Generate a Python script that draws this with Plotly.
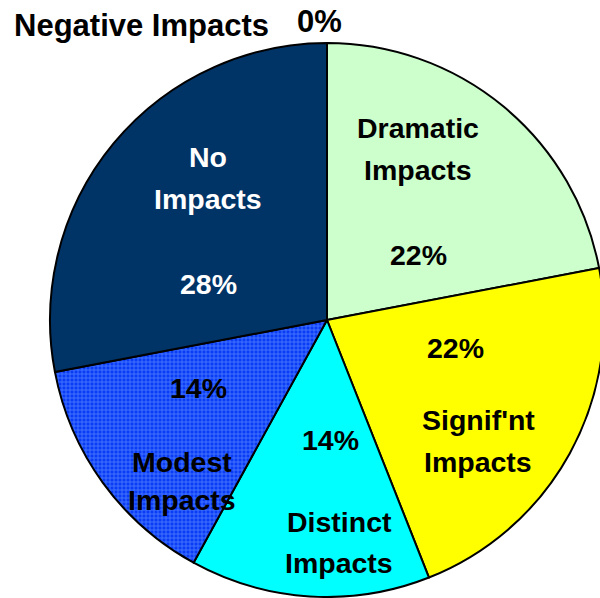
import plotly.graph_objects as go

# ---- data ----
categories = ["Dramatic Impacts", "Signif'nt Impacts", "Distinct Impacts",
              "Modest Impacts", "No Impacts", "Negative Impacts"]
values = [22, 22, 14, 14, 28, 0]
colors = ["#CCFFCC", "#FFFF00", "#00FFFF", "#0A3CF5", "#003366", "#FF0000"]
text_colors = ["black", "black", "black", "black", "white", "black"]

# ---- label placement (pixels; style, not data) ----
name_lines = {
    "Dramatic Impacts": (["Dramatic", "Impacts"], [(418, 128), (418, 170)]),
    "Signif'nt Impacts": (["Signif'nt", "Impacts"], [(478, 420), (478, 462)]),
    "Distinct Impacts": (["Distinct", "Impacts"], [(339, 522), (339, 563)]),
    "Modest Impacts": (["Modest", "Impacts"], [(182, 462), (182, 500)]),
    "No Impacts": (["No", "Impacts"], [(208, 157), (208, 199)]),
    "Negative Impacts": (["Negative Impacts"], [(141, 26)]),
}
pct_pos = {
    "Dramatic Impacts": (418, 255),
    "Signif'nt Impacts": (455, 348),
    "Distinct Impacts": (330, 440),
    "Modest Impacts": (198, 388),
    "No Impacts": (208, 284),
    "Negative Impacts": (319, 22),
}

W, H = 610, 598   # slightly wider than the window so the pie is clipped at right
FONT = "Liberation Sans, Arial, sans-serif"

marker_pattern = dict(
    shape=["", "", "", "+", "", ""],
    fgcolor="#4D7DFF",
    bgcolor=colors,
    size=4,
    solidity=0.35,
    fillmode="replace",
)

fig = go.Figure(go.Pie(
    labels=categories,
    values=values,
    sort=False,
    direction="clockwise",
    rotation=0,
    marker=dict(colors=colors, line=dict(color="black", width=2), pattern=marker_pattern),
    textinfo="none",
    hoverinfo="label+percent",
    showlegend=False,
    domain=dict(x=[50 / W, 604 / W], y=[1 - 597 / H, 1 - 43 / H]),
))

annotations = []
total = sum(values)
for cat, val, tc in zip(categories, values, text_colors):
    lines, poss = name_lines[cat]
    size = 31 if cat == "Negative Impacts" else 28.5
    for line, (px, py) in zip(lines, poss):
        annotations.append(dict(
            x=px / W, y=1 - py / H, xref="paper", yref="paper",
            text="<b>%s</b>" % line, showarrow=False,
            font=dict(family=FONT, size=size, color=tc),
            xanchor="center", yanchor="middle",
        ))
    px, py = pct_pos[cat]
    annotations.append(dict(
        x=px / W, y=1 - py / H, xref="paper", yref="paper",
        text="<b>%d%%</b>" % round(100 * val / total), showarrow=False,
        font=dict(family=FONT, size=size, color=tc),
        xanchor="center", yanchor="middle",
    ))

fig.update_layout(
    width=W, height=H,
    margin=dict(l=0, r=0, t=0, b=0),
    paper_bgcolor="white",
    plot_bgcolor="white",
    annotations=annotations,
)

fig.write_html(
    "out.html",
    config={"displayModeBar": False},
    post_script="document.body.style.margin='0';document.body.style.overflow='hidden';",
)
